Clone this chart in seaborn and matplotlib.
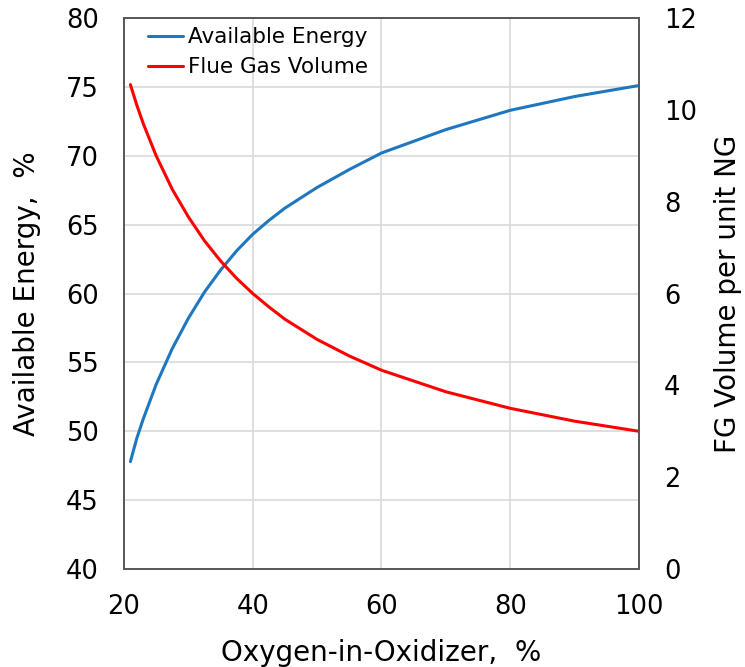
import numpy as np
import pandas as pd
import matplotlib
matplotlib.use("Agg")
import matplotlib.pyplot as plt
import seaborn as sns

# Values
oxygen_pct = [21, 22, 23, 25, 27.5, 30, 32.5, 35, 37.5, 40, 42.5, 45, 50, 55, 60, 70, 80, 90, 100]
available_energy = [47.8, 49.5, 50.9, 53.4, 56.0, 58.2, 60.1, 61.7, 63.1, 64.3, 65.3, 66.2, 67.7, 69.0, 70.2, 71.9, 73.3, 74.3, 75.1]
flue_gas_volume = [10.55, 10.1, 9.7, 9.0, 8.27, 7.67, 7.15, 6.71, 6.33, 6.0, 5.71, 5.44, 5.0, 4.64, 4.33, 3.86, 3.5, 3.22, 3.0]

df = pd.DataFrame({
    "oxygen": oxygen_pct,
    "energy": available_energy,
    "fg": flue_gas_volume,
})

sns.set_theme(style="white")
plt.rcParams["font.family"] = ["DejaVu Sans"]

blue = "#1f77c0"
red = "#ff0000"
spine_col = "#595959"

fig = plt.figure(figsize=(7.45, 6.67), dpi=100)
ax = fig.add_axes([0.1664, 0.1469, 0.6913, 0.8261])
ax2 = ax.twinx()

sns.lineplot(data=df, x="oxygen", y="energy", ax=ax, color=blue, linewidth=2.2,
             label="Available Energy", legend=False)
sns.lineplot(data=df, x="oxygen", y="fg", ax=ax2, color=red, linewidth=2.2,
             label="Flue Gas Volume", legend=False)

ax.set_xlim(20, 100)
ax.set_ylim(40, 80)
ax2.set_ylim(0, 12)
ax.set_xticks([20, 40, 60, 80, 100])
ax.set_yticks(np.arange(40, 81, 5))
ax2.set_yticks(np.arange(0, 13, 2))

ax.grid(True, color="#d9d9d9", linewidth=1.2)
ax.set_axisbelow(True)

for a in (ax, ax2):
    for s in a.spines.values():
        s.set_color(spine_col)
        s.set_linewidth(1.3)
    a.tick_params(length=0, labelsize=18.5, pad=18, colors="black")

ax.set_xlabel("Oxygen-in-Oxidizer,  %", fontsize=20, labelpad=14, color="black")
ax.set_ylabel("Available Energy,  %", fontsize=20, labelpad=18, color="black")
ax2.set_ylabel("FG Volume per unit NG", fontsize=20, labelpad=12, color="black")

h1, l1 = ax.get_legend_handles_labels()
h2, l2 = ax2.get_legend_handles_labels()
ax2.legend(h1 + h2, l1 + l2, loc="upper left", bbox_to_anchor=(0.01, 1.018),
           frameon=False, fontsize=15.5, handlelength=1.6, handletextpad=0.25,
           labelspacing=0.45, labelcolor="black")

fig.savefig("out.png", dpi=100)
